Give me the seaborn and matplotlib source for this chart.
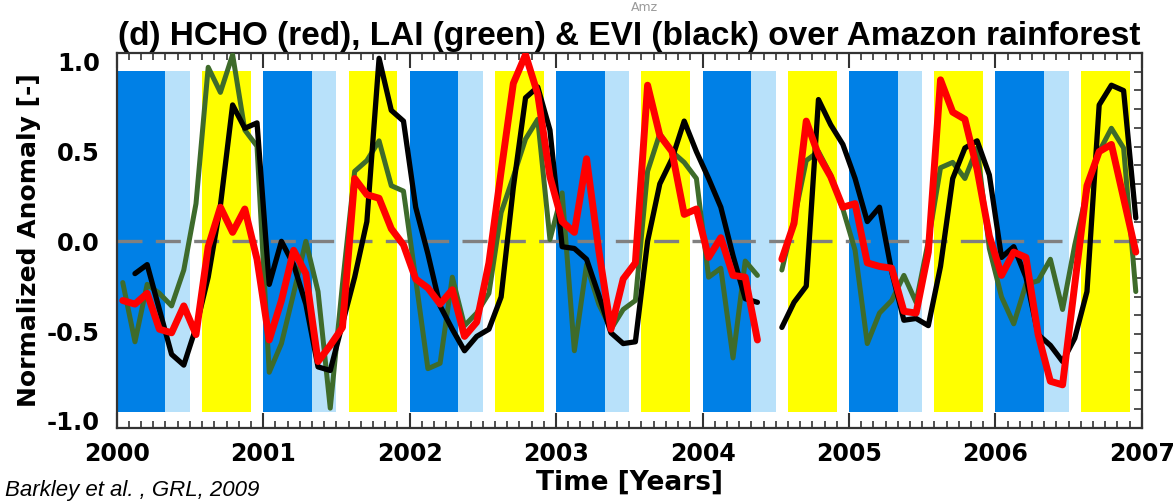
import matplotlib
matplotlib.use("Agg")

import matplotlib.pyplot as plt  # noqa: E402
import numpy as np               # noqa: E402
import pandas as pd              # noqa: E402
import seaborn as sns            # noqa: E402
from matplotlib.ticker import FixedLocator, MultipleLocator, FormatStrFormatter  # noqa: E402

sns.set_theme(style="white")
plt.rcParams["font.family"] = ["DejaVu Sans"]
plt.rcParams["axes.unicode_minus"] = False
for key in ["text.color", "axes.labelcolor", "xtick.labelcolor", "ytick.labelcolor"]:
    plt.rcParams[key] = "black"

# --------------------------------------------------------------------------- #
# Data: monthly normalised anomalies, Jan 2000 .. Dec 2006 (None = no data)
# --------------------------------------------------------------------------- #
START_YEAR = 2000
YEARS = list(range(2000, 2008))

HCHO = [
    -0.33, -0.35, -0.29, -0.49, -0.51, -0.36, -0.52, -0.03, 0.19, 0.05, 0.18, -0.10,
    -0.55, -0.33, -0.05, -0.18, -0.67, -0.58, -0.48, 0.35, 0.26, 0.24, 0.07, -0.02,
    -0.21, -0.26, -0.35, -0.27, -0.53, -0.45, -0.12, 0.39, 0.88, 1.04, 0.82, 0.36,
    0.11, 0.05, 0.46, -0.05, -0.49, -0.21, -0.12, 0.87, 0.59, 0.50, 0.15, 0.18,
    -0.09, 0.02, -0.19, -0.20, -0.55, None, -0.10, 0.10, 0.67, 0.48, 0.36, 0.19,
    0.21, -0.12, -0.14, -0.15, -0.39, -0.40, -0.06, 0.90, 0.72, 0.68, 0.40, 0.03,
    -0.19, -0.06, -0.09, -0.52, -0.78, -0.80, -0.24, 0.31, 0.50, 0.54, 0.24, -0.06,
]
LAI = [
    -0.23, -0.56, -0.24, -0.29, -0.36, -0.16, 0.21, 0.97, 0.83, 1.04, 0.62, 0.53,
    -0.73, -0.57, -0.29, 0.00, -0.28, -0.93, -0.24, 0.39, 0.45, 0.56, 0.31, 0.28,
    -0.21, -0.71, -0.68, -0.20, -0.47, -0.40, -0.29, 0.16, 0.36, 0.57, 0.68, 0.01,
    0.27, -0.61, -0.13, -0.35, -0.49, -0.38, -0.33, 0.39, 0.60, 0.50, 0.44, 0.35,
    -0.20, -0.15, -0.65, -0.11, -0.19, None, -0.16, 0.12, 0.45, 0.50, 0.37, 0.18,
    -0.05, -0.57, -0.40, -0.33, -0.19, -0.34, 0.00, 0.41, 0.44, 0.35, 0.52, -0.04,
    -0.31, -0.46, -0.24, -0.22, -0.10, -0.38, -0.02, 0.28, 0.50, 0.63, 0.52, -0.28,
]
EVI = [
    None, -0.18, -0.13, -0.38, -0.63, -0.69, -0.48, -0.20, 0.20, 0.76, 0.63, 0.66,
    -0.24, 0.00, -0.13, -0.35, -0.70, -0.72, -0.46, -0.20, 0.11, 1.02, 0.73, 0.67,
    0.19, -0.07, -0.36, -0.49, -0.61, -0.53, -0.49, -0.31, 0.30, 0.80, 0.86, 0.62,
    -0.03, -0.04, -0.10, -0.30, -0.51, -0.57, -0.56, 0.00, 0.32, 0.46, 0.67, 0.50,
    0.35, 0.19, -0.08, -0.32, -0.34, None, -0.48, -0.34, -0.25, 0.79, 0.65, 0.54,
    0.35, 0.11, 0.19, -0.17, -0.44, -0.43, -0.47, -0.14, 0.35, 0.52, 0.56, 0.37,
    -0.09, -0.03, -0.20, -0.52, -0.58, -0.67, -0.54, -0.28, 0.76, 0.87, 0.84, 0.13,
]

# season shading: month offsets inside each year
SEASON_START = [0, 4, 7]
SEASON_END = [4, 6, 11]
SEASON_COLOURS = ["#0080E6", "#B8E1FA", "#FFFF00"]

ORDER = ["LAI", "EVI", "HCHO"]
SERIES = {"LAI": LAI, "EVI": EVI, "HCHO": HCHO}
COLOURS = {"LAI": "#3E6B2B", "EVI": "black", "HCHO": "#FF0000"}
WIDTHS = {"LAI": 3.6, "EVI": 3.8, "HCHO": 5.0}

# long table, one line segment per gap-free stretch
rows = []
for name in ORDER:
    seg = 0
    for i, v in enumerate(SERIES[name]):
        if v is None:
            seg += 1
            continue
        rows.append({"time": START_YEAR + (i + 0.5) / 12, "value": v,
                     "series": name, "segment": seg})
df = pd.DataFrame(rows)

# --------------------------------------------------------------------------- #
# Figure
# --------------------------------------------------------------------------- #
fig, ax = plt.subplots(figsize=(11.76, 5.04), dpi=100)
fig.subplots_adjust(left=0.0992, right=0.971, bottom=0.151, top=0.895)

for yr in YEARS[:-1]:
    for s0, s1, c in zip(SEASON_START, SEASON_END, SEASON_COLOURS):
        ax.fill_between([yr + s0 / 12, yr + s1 / 12], -0.95, 0.95,
                        color=c, lw=0, zorder=1)

ax.axhline(0, color="#808080", lw=2.4, dashes=(7.5, 4), zorder=2)

for name in ORDER:
    sns.lineplot(
        data=df[df.series == name], x="time", y="value",
        units="segment", estimator=None,
        color=COLOURS[name], lw=WIDTHS[name], ax=ax, zorder=3,
    )

ax.set_xlim(YEARS[0], YEARS[-1])
ylim = (-1.04, 1.05)
ax.set_ylim(*ylim)
ax.set_axisbelow(True)

ax.xaxis.set_major_locator(FixedLocator(YEARS))
ax.xaxis.set_minor_locator(MultipleLocator(1 / 12))
ax.yaxis.set_major_locator(MultipleLocator(0.5))
ax.yaxis.set_major_formatter(FormatStrFormatter("%.1f"))
ax.yaxis.set_minor_locator(FixedLocator(np.linspace(*ylim, 21)))

ax.tick_params(axis="x", which="both", direction="in", top=True, bottom=True,
               color="#333333")
ax.tick_params(axis="x", which="major", length=11, width=1.5, pad=10,
               labelsize=17)
ax.tick_params(axis="x", which="minor", length=5, width=1.2)
ax.tick_params(axis="y", which="major", length=0, pad=12, labelsize=17.5)
ax.tick_params(axis="y", which="minor", direction="in", left=True, right=True,
               length=6, width=1.2, color="#333333")
for lab in ax.get_xticklabels() + ax.get_yticklabels():
    lab.set_fontweight("bold")

for sp in ax.spines.values():
    sp.set_color("#333333")
    sp.set_linewidth(1.6)

ax.set_xlabel("Time [Years]", fontsize=19, fontweight="bold", labelpad=3)
ax.set_ylabel("Normalized Anomaly [-]", fontsize=18, fontweight="bold",
              labelpad=4)
ax.set_title("(d) HCHO (red), LAI (green) & EVI (black) over Amazon rainforest",
             fontsize=24, fontweight="bold", pad=6,
             family=["Liberation Sans Narrow", "Liberation Sans"])

fig.text(0.548, 0.999, "Amz", color="#9a9a9a", fontsize=9,
         ha="center", va="top")
fig.text(0.004, 0.015, "Barkley et al. , GRL, 2009", fontsize=16,
         style="italic", family=["Liberation Sans"])

plt.savefig("out.png", dpi=100)
